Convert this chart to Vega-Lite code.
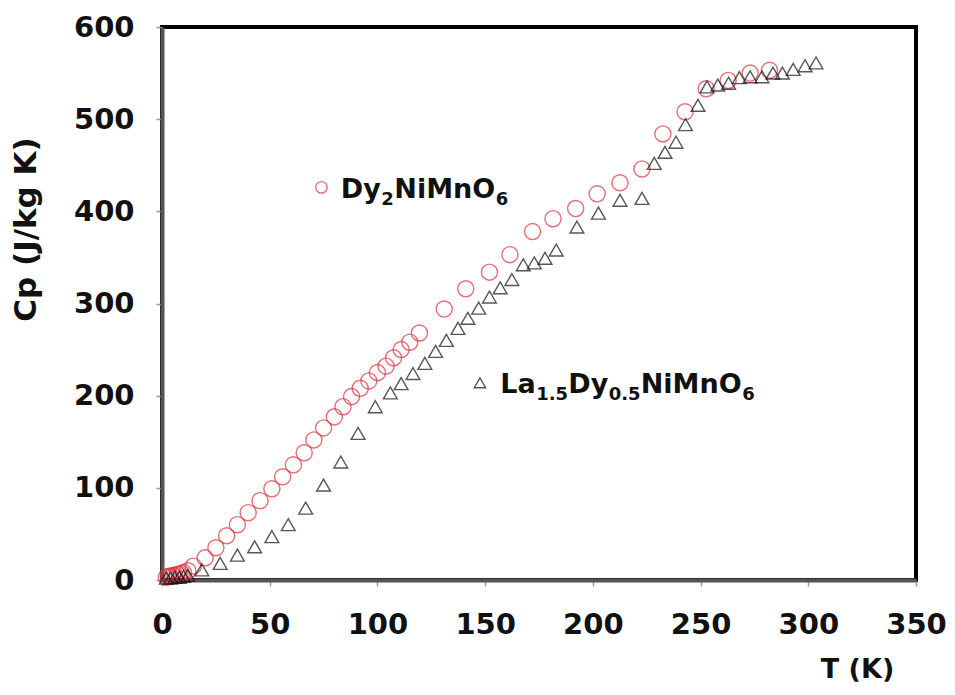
{
  "$schema": "https://vega.github.io/schema/vega-lite/v6.json",
  "width": 754,
  "height": 553,
  "autosize": {"type": "none"},
  "padding": {"left": 162, "top": 27, "right": 39, "bottom": 115},
  "background": "white",
  "config": {
    "view": {"stroke": "#000", "strokeWidth": 4},
    "axis": {
      "labelFont": "DejaVu Sans",
      "labelFontWeight": "bold",
      "labelFontSize": 29,
      "labelColor": "#111",
      "labelFlush": false,
      "labelOverlap": false,
      "titleFont": "DejaVu Sans",
      "titleFontWeight": "bold",
      "titleColor": "#111",
      "domainColor": "#555",
      "domainWidth": 4,
      "tickColor": "#999",
      "tickSize": 6,
      "tickWidth": 1.5,
      "grid": false
    },
    "text": {"font": "DejaVu Sans", "fontWeight": "bold", "color": "#111", "align": "left", "baseline": "alphabetic"}
  },
  "datasets": {
    "pts": [
      {"series": "Dy2NiMnO6", "T": 2, "Cp": 3},
      {"series": "Dy2NiMnO6", "T": 3, "Cp": 4},
      {"series": "Dy2NiMnO6", "T": 4, "Cp": 4},
      {"series": "Dy2NiMnO6", "T": 5, "Cp": 5},
      {"series": "Dy2NiMnO6", "T": 6, "Cp": 5},
      {"series": "Dy2NiMnO6", "T": 7, "Cp": 6},
      {"series": "Dy2NiMnO6", "T": 8, "Cp": 6},
      {"series": "Dy2NiMnO6", "T": 9, "Cp": 7},
      {"series": "Dy2NiMnO6", "T": 10, "Cp": 8},
      {"series": "Dy2NiMnO6", "T": 12, "Cp": 10},
      {"series": "Dy2NiMnO6", "T": 14.5, "Cp": 15},
      {"series": "Dy2NiMnO6", "T": 20, "Cp": 24},
      {"series": "Dy2NiMnO6", "T": 25, "Cp": 35},
      {"series": "Dy2NiMnO6", "T": 30, "Cp": 48},
      {"series": "Dy2NiMnO6", "T": 35, "Cp": 60},
      {"series": "Dy2NiMnO6", "T": 40, "Cp": 73},
      {"series": "Dy2NiMnO6", "T": 45.5, "Cp": 86},
      {"series": "Dy2NiMnO6", "T": 51, "Cp": 99},
      {"series": "Dy2NiMnO6", "T": 56, "Cp": 112},
      {"series": "Dy2NiMnO6", "T": 61, "Cp": 125},
      {"series": "Dy2NiMnO6", "T": 66, "Cp": 138},
      {"series": "Dy2NiMnO6", "T": 70.5, "Cp": 152},
      {"series": "Dy2NiMnO6", "T": 75, "Cp": 165},
      {"series": "Dy2NiMnO6", "T": 80, "Cp": 177},
      {"series": "Dy2NiMnO6", "T": 84, "Cp": 188},
      {"series": "Dy2NiMnO6", "T": 88, "Cp": 199},
      {"series": "Dy2NiMnO6", "T": 92, "Cp": 208},
      {"series": "Dy2NiMnO6", "T": 96, "Cp": 216},
      {"series": "Dy2NiMnO6", "T": 100, "Cp": 225},
      {"series": "Dy2NiMnO6", "T": 104, "Cp": 232},
      {"series": "Dy2NiMnO6", "T": 107.5, "Cp": 241},
      {"series": "Dy2NiMnO6", "T": 111, "Cp": 250},
      {"series": "Dy2NiMnO6", "T": 115, "Cp": 258},
      {"series": "Dy2NiMnO6", "T": 119.5, "Cp": 268},
      {"series": "Dy2NiMnO6", "T": 131, "Cp": 294},
      {"series": "Dy2NiMnO6", "T": 141, "Cp": 316},
      {"series": "Dy2NiMnO6", "T": 152, "Cp": 334},
      {"series": "Dy2NiMnO6", "T": 161.5, "Cp": 353},
      {"series": "Dy2NiMnO6", "T": 172, "Cp": 378},
      {"series": "Dy2NiMnO6", "T": 181.5, "Cp": 392},
      {"series": "Dy2NiMnO6", "T": 192, "Cp": 403},
      {"series": "Dy2NiMnO6", "T": 202, "Cp": 419},
      {"series": "Dy2NiMnO6", "T": 212.6, "Cp": 431},
      {"series": "Dy2NiMnO6", "T": 222.8, "Cp": 446},
      {"series": "Dy2NiMnO6", "T": 232.5, "Cp": 484},
      {"series": "Dy2NiMnO6", "T": 242.8, "Cp": 508},
      {"series": "Dy2NiMnO6", "T": 252.6, "Cp": 533},
      {"series": "Dy2NiMnO6", "T": 262.8, "Cp": 542},
      {"series": "Dy2NiMnO6", "T": 273, "Cp": 550},
      {"series": "Dy2NiMnO6", "T": 282, "Cp": 553},
      {"series": "La1.5Dy0.5NiMnO6", "T": 2, "Cp": 2},
      {"series": "La1.5Dy0.5NiMnO6", "T": 4, "Cp": 2},
      {"series": "La1.5Dy0.5NiMnO6", "T": 6, "Cp": 3},
      {"series": "La1.5Dy0.5NiMnO6", "T": 8, "Cp": 3},
      {"series": "La1.5Dy0.5NiMnO6", "T": 10, "Cp": 4},
      {"series": "La1.5Dy0.5NiMnO6", "T": 12, "Cp": 5},
      {"series": "La1.5Dy0.5NiMnO6", "T": 18.5, "Cp": 11},
      {"series": "La1.5Dy0.5NiMnO6", "T": 27, "Cp": 18},
      {"series": "La1.5Dy0.5NiMnO6", "T": 35, "Cp": 27},
      {"series": "La1.5Dy0.5NiMnO6", "T": 43, "Cp": 36},
      {"series": "La1.5Dy0.5NiMnO6", "T": 51, "Cp": 47},
      {"series": "La1.5Dy0.5NiMnO6", "T": 58.6, "Cp": 60},
      {"series": "La1.5Dy0.5NiMnO6", "T": 66.7, "Cp": 78},
      {"series": "La1.5Dy0.5NiMnO6", "T": 75, "Cp": 103},
      {"series": "La1.5Dy0.5NiMnO6", "T": 83, "Cp": 128},
      {"series": "La1.5Dy0.5NiMnO6", "T": 91, "Cp": 159},
      {"series": "La1.5Dy0.5NiMnO6", "T": 99, "Cp": 188},
      {"series": "La1.5Dy0.5NiMnO6", "T": 106, "Cp": 203},
      {"series": "La1.5Dy0.5NiMnO6", "T": 111, "Cp": 213},
      {"series": "La1.5Dy0.5NiMnO6", "T": 116.5, "Cp": 224},
      {"series": "La1.5Dy0.5NiMnO6", "T": 122, "Cp": 235},
      {"series": "La1.5Dy0.5NiMnO6", "T": 127, "Cp": 248},
      {"series": "La1.5Dy0.5NiMnO6", "T": 132, "Cp": 260},
      {"series": "La1.5Dy0.5NiMnO6", "T": 137.4, "Cp": 273},
      {"series": "La1.5Dy0.5NiMnO6", "T": 142, "Cp": 284},
      {"series": "La1.5Dy0.5NiMnO6", "T": 147, "Cp": 295},
      {"series": "La1.5Dy0.5NiMnO6", "T": 152, "Cp": 307},
      {"series": "La1.5Dy0.5NiMnO6", "T": 157, "Cp": 317},
      {"series": "La1.5Dy0.5NiMnO6", "T": 162.4, "Cp": 326},
      {"series": "La1.5Dy0.5NiMnO6", "T": 167.7, "Cp": 342},
      {"series": "La1.5Dy0.5NiMnO6", "T": 172.8, "Cp": 344},
      {"series": "La1.5Dy0.5NiMnO6", "T": 177.8, "Cp": 349},
      {"series": "La1.5Dy0.5NiMnO6", "T": 183, "Cp": 358},
      {"series": "La1.5Dy0.5NiMnO6", "T": 192.6, "Cp": 383},
      {"series": "La1.5Dy0.5NiMnO6", "T": 202.6, "Cp": 398},
      {"series": "La1.5Dy0.5NiMnO6", "T": 212.6, "Cp": 412},
      {"series": "La1.5Dy0.5NiMnO6", "T": 222.8, "Cp": 414},
      {"series": "La1.5Dy0.5NiMnO6", "T": 228.5, "Cp": 452},
      {"series": "La1.5Dy0.5NiMnO6", "T": 233.5, "Cp": 464},
      {"series": "La1.5Dy0.5NiMnO6", "T": 238.6, "Cp": 475},
      {"series": "La1.5Dy0.5NiMnO6", "T": 243, "Cp": 494},
      {"series": "La1.5Dy0.5NiMnO6", "T": 248.8, "Cp": 515},
      {"series": "La1.5Dy0.5NiMnO6", "T": 253, "Cp": 535},
      {"series": "La1.5Dy0.5NiMnO6", "T": 258, "Cp": 537},
      {"series": "La1.5Dy0.5NiMnO6", "T": 263, "Cp": 539},
      {"series": "La1.5Dy0.5NiMnO6", "T": 268, "Cp": 545},
      {"series": "La1.5Dy0.5NiMnO6", "T": 273, "Cp": 546},
      {"series": "La1.5Dy0.5NiMnO6", "T": 278.5, "Cp": 546},
      {"series": "La1.5Dy0.5NiMnO6", "T": 283.6, "Cp": 550},
      {"series": "La1.5Dy0.5NiMnO6", "T": 288, "Cp": 550},
      {"series": "La1.5Dy0.5NiMnO6", "T": 293, "Cp": 554},
      {"series": "La1.5Dy0.5NiMnO6", "T": 298.5, "Cp": 558},
      {"series": "La1.5Dy0.5NiMnO6", "T": 303.6, "Cp": 561}
    ],
    "labels": [
      {"series": "Dy2NiMnO6", "T": 74, "Cp": 426, "tT": 83},
      {"series": "La1.5Dy0.5NiMnO6", "T": 147.6, "Cp": 214, "tT": 157}
    ]
  },
  "layer": [
    {
      "data": {"name": "pts"},
      "mark": {"type": "point", "filled": false, "strokeWidth": 1.4},
      "encoding": {
        "x": {
          "field": "T", "type": "quantitative",
          "scale": {"domain": [0, 350], "nice": false, "zero": false},
          "axis": {
            "values": [0, 50, 100, 150, 200, 250, 300, 350],
            "labelPadding": 24,
            "title": "T (K)",
            "titleFontSize": 27,
            "titleX": 695,
            "titleY": 89,
            "titleAlign": "center",
            "titleBaseline": "middle"
          }
        },
        "y": {
          "field": "Cp", "type": "quantitative",
          "scale": {"domain": [0, 600], "nice": false},
          "axis": {
            "values": [0, 100, 200, 300, 400, 500, 600],
            "labelPadding": 22,
            "title": "Cp (J/kg K)",
            "titleFontSize": 31,
            "titleX": -136,
            "titleY": 202,
            "titleAlign": "center",
            "titleBaseline": "middle",
            "titleAngle": -90
          }
        },
        "shape": {
          "field": "series", "type": "nominal",
          "scale": {"domain": ["Dy2NiMnO6", "La1.5Dy0.5NiMnO6"], "range": ["circle", "triangle-up"]},
          "legend": null
        },
        "color": {
          "field": "series", "type": "nominal",
          "scale": {"domain": ["Dy2NiMnO6", "La1.5Dy0.5NiMnO6"], "range": ["#e0323c", "#111111"]},
          "legend": null
        },
        "size": {
          "field": "series", "type": "nominal",
          "scale": {"domain": ["Dy2NiMnO6", "La1.5Dy0.5NiMnO6"], "range": [260, 190]},
          "legend": null
        }
      }
    },
    {
      "data": {"name": "labels"},
      "mark": {"type": "point", "filled": false, "strokeWidth": 1.4},
      "encoding": {
        "x": {"field": "T", "type": "quantitative"},
        "y": {"field": "Cp", "type": "quantitative"},
        "shape": {"field": "series", "type": "nominal", "legend": null},
        "color": {"field": "series", "type": "nominal", "legend": null},
        "size": {"value": 130}
      }
    },
    {
      "data": {"name": "labels"},
      "transform": [{"filter": "datum.series === 'Dy2NiMnO6'"}],
      "encoding": {
        "x": {"field": "tT", "type": "quantitative"},
        "y": {"field": "Cp", "type": "quantitative"}
      },
      "layer": [
        {"mark": {"type": "text", "text": "Dy", "fontSize": 27, "dx": 0, "dy": 11}},
        {"mark": {"type": "text", "text": "2", "fontSize": 18, "dx": 40.5, "dy": 18}},
        {"mark": {"type": "text", "text": "NiMnO", "fontSize": 27, "dx": 53.5, "dy": 11}},
        {"mark": {"type": "text", "text": "6", "fontSize": 18, "dx": 155, "dy": 18}}
      ]
    },
    {
      "data": {"name": "labels"},
      "transform": [{"filter": "datum.series === 'La1.5Dy0.5NiMnO6'"}],
      "encoding": {
        "x": {"field": "tT", "type": "quantitative"},
        "y": {"field": "Cp", "type": "quantitative"}
      },
      "layer": [
        {"mark": {"type": "text", "text": "La", "fontSize": 27, "dx": 0, "dy": 10}},
        {"mark": {"type": "text", "text": "1.5", "fontSize": 18, "dx": 36, "dy": 17}},
        {"mark": {"type": "text", "text": "Dy", "fontSize": 27, "dx": 68, "dy": 10}},
        {"mark": {"type": "text", "text": "0.5", "fontSize": 18, "dx": 108.5, "dy": 17}},
        {"mark": {"type": "text", "text": "NiMnO", "fontSize": 27, "dx": 140.5, "dy": 10}},
        {"mark": {"type": "text", "text": "6", "fontSize": 18, "dx": 242, "dy": 17}}
      ]
    }
  ]
}
